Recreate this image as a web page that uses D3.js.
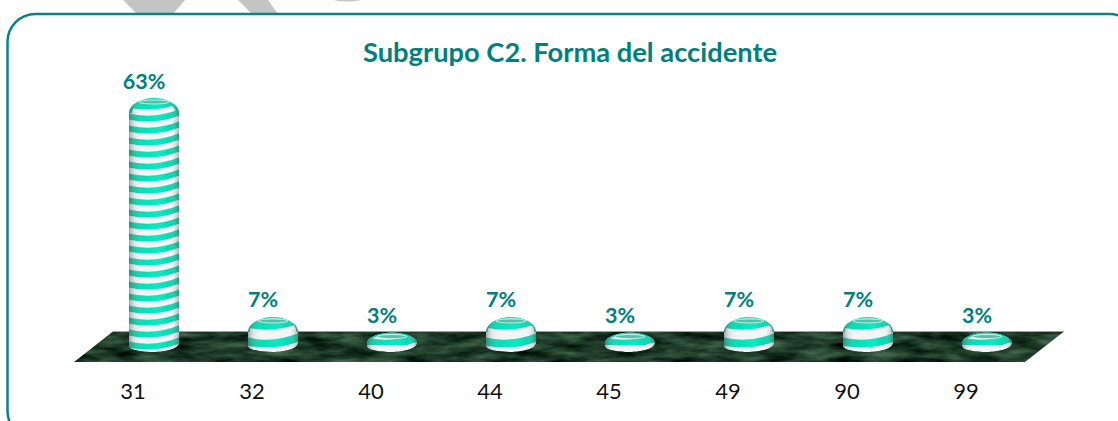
<!DOCTYPE html>
<html><head><meta charset="utf-8">
<script src="https://cdnjs.cloudflare.com/ajax/libs/d3/7.8.5/d3.min.js"></script>
<style>html,body{margin:0;padding:0;background:#fff;overflow:hidden}svg{display:block}text{font-family:Lato,"Open Sans",sans-serif}</style>
</head><body><svg id="c" width="1118" height="421"></svg>
<script>
const categories = ["31","32","40","44","45","49","90","99"];
const values = [63,7,3,7,3,7,7,3];
const chartTitle = "Subgrupo C2. Forma del accidente";
const teal = "#00807d";

const svg = d3.select("#c");
const defs = svg.append("defs");

// decorative grey shapes above the frame
const grey = svg.append("g").attr("fill","#c4c4c4");
grey.append("path").attr("d","M123,0L137,14L173,14L185,0Z");
grey.append("path").attr("d","M238,0L252,14L278,14L268,0Z");
grey.append("path").attr("d","M333,0Q347,3 362,0Z");

// frame
svg.append("rect").attr("x",7.5).attr("y",14).attr("width",1130).attr("height",425).attr("rx",28)
  .attr("fill","none").attr("stroke","#068583").attr("stroke-width",2.5);

svg.append("text").attr("x",570).attr("y",62).attr("text-anchor","middle")
  .attr("font-size",27.3).attr("font-weight",700).attr("fill",teal).text(chartTitle);

const x = d3.scaleBand().domain(categories).range([94.5,1046.5]).paddingInner(0.58).paddingOuter(0.29);
const y = d3.scaleLinear().domain([0,63]).range([344.3,98]);
const floorTop = 331.5, floorBottom = 362, baseY = 352;

// floor texture
const f = defs.append("filter").attr("id","marble").attr("x",0).attr("y",0).attr("width","100%").attr("height","100%")
  .attr("color-interpolation-filters","sRGB");
f.append("feTurbulence").attr("type","fractalNoise").attr("baseFrequency","0.03 0.12").attr("numOctaves",4).attr("seed",7).attr("result","n");
f.append("feColorMatrix").attr("in","n").attr("type","matrix")
  .attr("values","0.45 0 0 0 -0.11  0.55 0 0 0 -0.05  0.45 0 0 0 -0.07  0 0 0 0 1").attr("result","m");
f.append("feComposite").attr("in","m").attr("in2","SourceAlpha").attr("operator","in");

const x0 = x.range()[0], x1 = x.range()[1];
const floorPts = [[x0-20.5,floorBottom],[x0+18.5,floorTop],[x1+17.5,floorTop],[x1-21.5,floorBottom]];
svg.append("polygon").attr("points",floorPts.join(" ")).attr("fill","#1c3f30").attr("filter","url(#marble)");
svg.append("line").attr("x1",floorPts[1][0]).attr("x2",floorPts[2][0]).attr("y1",floorTop).attr("y2",floorTop)
  .attr("stroke","#9aa8a0").attr("stroke-width",0.8);

// gradients
const gStripe = defs.append("linearGradient").attr("id","stripe");
[[0,"#04c09e"],[0.3,"#04e0b6"],[0.6,"#0aeac2"],[1,"#02c09c"]].forEach(s=>gStripe.append("stop").attr("offset",s[0]).attr("stop-color",s[1]));
const gShade = defs.append("linearGradient").attr("id","shade");
[[0,"#555",0.5],[0.1,"#888",0.2],[0.28,"#fff",0],[0.8,"#fff",0],[1,"#555",0.4]].forEach(s=>gShade.append("stop").attr("offset",s[0]).attr("stop-color",s[1]).attr("stop-opacity",s[2]));
const soft = defs.append("filter").attr("id","soft").attr("color-interpolation-filters","sRGB");
soft.append("feGaussianBlur").attr("stdDeviation",0.55);

const shoulder = d => Math.min(15, (baseY - y(d.v))*0.55);
function domePath(d){
  const l = x(d.c), w = x.bandwidth(), r = l+w, m = l+w/2, t = y(d.v), sh = shoulder(d);
  return `M${l},${t+sh}`
    + `C${l},${t+sh*0.4} ${l+w*0.26},${t} ${m},${t}`
    + `C${r-w*0.26},${t} ${r},${t+sh*0.4} ${r},${t+sh}`;
}
function barPath(d){
  const l = x(d.c), w = x.bandwidth(), r = l+w, m = l+w/2;
  const lo = 6;
  return domePath(d)
    + `L${r},${baseY-lo-3}`
    + `C${r},${baseY-3} ${l+w*0.7},${baseY} ${m},${baseY}`
    + `C${l+w*0.25},${baseY} ${l},${baseY-2} ${l},${baseY-lo}Z`;
}

const data = categories.map((c,i)=>({c,v:values[i],i}));
const bars = svg.selectAll("g.bar").data(data).join("g").attr("class","bar");
data.forEach(d=>defs.append("clipPath").attr("id","clip"+d.i).append("path").attr("d",barPath(d)));

bars.each(function(d){
  const g = d3.select(this);
  const inner = g.append("g").attr("clip-path",`url(#clip${d.i})`);
  const l = x(d.c), w = x.bandwidth(), r = l+w, m = l+w/2, t = y(d.v);
  inner.append("path").attr("d",barPath(d)).attr("fill","#f2f5f6");
  const tall = baseY - t > 60;
  const period = tall ? 12 : 18;
  const stripes = inner.append("g").attr("filter","url(#soft)");
  for(let s = baseY-(tall ? 9 : 12); s > t+2; s -= period){
    stripes.append("path").attr("d",`M${l-3},${s+1}Q${m},${s+8} ${r+3},${s-3.5}`)
      .attr("fill","none").attr("stroke","url(#stripe)").attr("stroke-width",tall ? 5.8 : 8);
  }
  // teal rim round the dome
  stripes.append("path").attr("d",domePath(d)).attr("fill","none").attr("stroke","url(#stripe)").attr("stroke-width",tall ? 6 : 3);
  inner.append("path").attr("d",barPath(d)).attr("fill","url(#shade)");
  // top cap
  g.append("ellipse").attr("cx",m).attr("cy",t+4).attr("rx",w*0.3).attr("ry",2)
    .attr("fill","#5cbcaa").attr("stroke","#e2f2ee").attr("stroke-width",0.8);
});

// value labels
svg.selectAll("text.val").data(data).join("text").attr("class","val")
  .attr("x",d=>x(d.c)+x.bandwidth()/2-10).attr("y",d=>y(d.v)-9.5)
  .attr("text-anchor","middle").attr("font-size",21.5).attr("font-weight",700).attr("fill",teal)
  .text(d=>d.v+"%");

// category labels
svg.selectAll("text.cat").data(data).join("text").attr("class","cat")
  .attr("x",d=>x(d.c)+x.bandwidth()/2-21).attr("y",399)
  .attr("text-anchor","middle").attr("font-size",22).attr("fill","#111")
  .text(d=>d.c);
</script></body></html>
